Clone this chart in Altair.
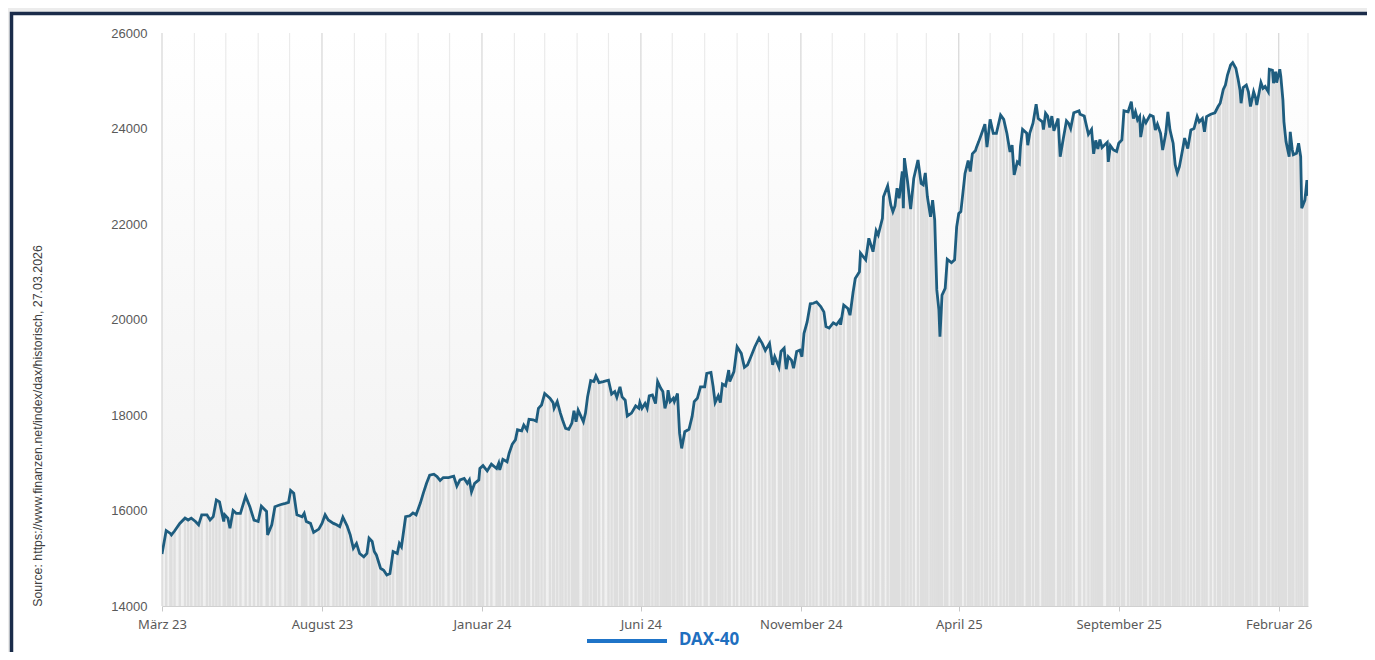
import altair as alt
import pandas as pd

# ---------------- data ----------------
start_date = "2023-03-01"
end_date = "2026-03-01"

day_offsets = [
    0, 4, 8, 9, 12, 17, 22, 25, 28, 32, 35, 38, 43, 46, 49, 52, 55, 59, 60, 63,
    65, 68, 71, 75, 80, 84, 88, 92, 95, 100, 101, 105, 108, 113, 118, 121, 123, 126, 129, 134,
    136, 138, 142, 145, 150, 153, 156, 159, 164, 167, 170, 173, 177, 180, 183, 186, 189, 193, 196, 198,
    201, 203, 205, 209, 212, 215, 218, 221, 225, 227, 229, 233, 237, 240, 243, 247, 250, 253, 256, 260,
    263, 266, 269, 274, 279, 282, 285, 289, 292, 294, 296, 299, 303, 304, 307, 311, 315, 320, 322, 323,
    326, 330, 332, 335, 338, 340, 344, 346, 349, 351, 355, 358, 360, 363, 366, 371, 374, 375, 378, 381,
    383, 386, 389, 392, 394, 396, 398, 403, 405, 407, 410, 413, 415, 418, 422, 427, 430, 433, 435, 438,
    440, 443, 445, 449, 453, 456, 457, 459, 462, 464, 466, 469, 472, 474, 477, 479, 481, 483, 484, 486,
    489, 490, 493, 495, 497, 500, 504, 507, 509, 512, 515, 519, 521, 525, 527, 529, 532, 534, 536, 539,
    542, 543, 547, 550, 554, 557, 560, 563, 567, 571, 574, 577, 581, 584, 586, 590, 592, 595, 597, 599,
    602, 604, 607, 610, 612, 614, 617, 620, 623, 626, 630, 633, 635, 638, 642, 645, 648, 649, 652, 656,
    658, 661, 663, 667, 668, 673, 676, 680, 683, 685, 689, 690, 694, 697, 699, 701, 703, 705, 708, 709,
    710, 713, 716, 719, 723, 726, 728, 730, 732, 735, 737, 739, 741, 743, 744, 746, 749, 751, 755, 758,
    760, 762, 764, 768, 771, 773, 775, 778, 779, 781, 784, 787, 789, 792, 795, 798, 802, 805, 808, 811,
    813, 815, 818, 820, 821, 823, 827, 828, 830, 833, 836, 838, 842, 843, 845, 847, 849, 851, 853, 857,
    859, 862, 865, 867, 869, 872, 877, 878, 882, 886, 889, 891, 893, 895, 897, 899, 904, 905, 907, 910,
    913, 915, 918, 920, 924, 927, 929, 931, 933, 935, 936, 939, 941, 945, 948, 950, 952, 955, 957, 960,
    962, 964, 967, 969, 971, 973, 976, 978, 981, 984, 987, 990, 992, 995, 997, 999, 1003, 1007, 1010, 1012,
    1015, 1017, 1019, 1022, 1024, 1027, 1029, 1031, 1032, 1034, 1037, 1039, 1041, 1044, 1046, 1047, 1051, 1053, 1055, 1058,
    1059, 1062, 1063, 1065, 1066, 1069, 1070, 1072, 1073, 1075, 1078, 1079, 1081, 1082, 1085, 1087, 1089, 1090, 1093, 1095,
    1096,
]

dax_values = [
    15090, 15580, 15520, 15490, 15570, 15730, 15840, 15800, 15840, 15770, 15700, 15910, 15910, 15800, 15870, 16220, 16180, 15770, 15910, 15840,
    15630, 16000, 15940, 15940, 16300, 16080, 15800, 15770, 16090, 15980, 15490, 15700, 16080, 16120, 16150, 16170, 16420, 16360, 15910, 15870,
    15940, 15770, 15730, 15540, 15610, 15730, 15910, 15800, 15730, 15700, 15660, 15860, 15680, 15490, 15210, 15310, 15100, 15030, 15100, 15420,
    15350, 15140, 15070, 14790, 14750, 14650, 14680, 15140, 15100, 15310, 15240, 15870, 15890, 15950, 15910, 16150, 16370, 16570, 16740, 16760,
    16710, 16630, 16690, 16690, 16720, 16510, 16640, 16670, 16570, 16640, 16390, 16570, 16640, 16880, 16940, 16830, 16970, 16880, 16990, 16850,
    17070, 17020, 17200, 17390, 17480, 17690, 17670, 17790, 17690, 17910, 17900, 17870, 18140, 18210, 18450, 18350, 18260, 18140, 18280, 18040,
    17900, 17720, 17700, 17830, 18090, 17860, 18100, 17860, 18040, 18380, 18720, 18700, 18820, 18680, 18700, 18730, 18440, 18490, 18370, 18590,
    18380, 18310, 17980, 18040, 18190, 18140, 18260, 18140, 18240, 18140, 18400, 18420, 18240, 18700, 18560, 18490, 18140, 18300, 18520, 18280,
    18350, 18280, 18450, 17620, 17300, 17650, 17700, 17970, 18280, 18350, 18590, 18590, 18870, 18890, 18610, 18260, 18400, 18260, 18650, 18610,
    18940, 18700, 18910, 19430, 19290, 19000, 19050, 19210, 19430, 19610, 19500, 19350, 19500, 19050, 19220, 19000, 19330, 19400, 18960, 19220,
    19150, 18980, 19330, 19360, 19220, 19710, 19950, 20330, 20340, 20370, 20270, 20160, 19850, 19820, 19930, 19890, 19980, 19890, 20300, 20230,
    20090, 20580, 20860, 21000, 21390, 21250, 21700, 21420, 21860, 21770, 22120, 22570, 22800, 22400, 22260, 22380, 22750, 22540, 23100, 22330,
    23380, 22890, 22310, 22960, 23340, 22850, 22820, 23070, 22570, 22150, 22500, 22080, 20620, 20200, 19640, 20510, 20650, 21260, 21190, 21250,
    21940, 22220, 22260, 23060, 23330, 23100, 23470, 23540, 23610, 23720, 23900, 24090, 23610, 24190, 23900, 23900, 24280, 24190, 23900, 23510,
    23650, 23030, 23300, 23260, 23620, 23980, 23900, 23650, 23910, 24110, 24510, 24210, 24140, 23980, 24320, 24260, 24020, 24260, 23950, 24210,
    23410, 23790, 24160, 24110, 24000, 24330, 24370, 24300, 24260, 23880, 23980, 23470, 23750, 23570, 23770, 23600, 23710, 23300, 23640, 23550,
    23520, 23690, 23760, 24370, 24350, 24560, 24210, 24350, 24180, 24250, 23820, 24210, 24120, 24280, 24250, 23970, 24090, 23900, 23550, 23900,
    24350, 23970, 23690, 23240, 23070, 23200, 23550, 23800, 23580, 23970, 24000, 24250, 24140, 24210, 23930, 24250, 24300, 24330, 24460, 24530,
    24820, 24910, 25120, 25330, 25380, 25260, 25050, 24800, 24530, 24860, 24910, 24770, 24460, 24770, 24630, 24490, 24960, 24840, 24880, 24770,
    25240, 25220, 24950, 25190, 24960, 25240, 25090, 24600, 24140, 23720, 23410, 23930, 23550, 23450, 23480, 23690, 23410, 22330, 22500, 22920,
    22590,
]

tick_labels = ["März 23", "August 23", "Januar 24", "Juni 24", "November 24",
               "April 25", "September 25", "Februar 26"]
tick_dates = ["2023-03-01", "2023-08-01", "2024-01-01", "2024-06-01", "2024-11-01",
              "2025-04-01", "2025-09-01", "2026-02-01"]
y_ticks = [14000, 16000, 18000, 20000, 22000, 24000, 26000]

series_name = "DAX-40"
source_text = "Source: https://www.finanzen.net/index/dax/historisch,  27.03.2026"

# ---------------- derived tables ----------------
t0 = pd.Timestamp(start_date)
tick_days = [(pd.Timestamp(d) - t0).days for d in tick_dates]
end_day = (pd.Timestamp(end_date) - t0).days
month_days = [(m - t0).days for m in pd.date_range(start_date, end_date, freq="MS")]

df = pd.DataFrame({"day": day_offsets, "value": dax_values})
minor_df = pd.DataFrame({"day": [d for d in month_days if d not in tick_days]})
major_df = pd.DataFrame({"day": tick_days})
one = pd.DataFrame({"k": [0]})

label_expr = "".join(f"datum.value == {d} ? '{l}' : " for d, l in zip(tick_days, tick_labels)) + "''"

W, H = 1146, 573

x_scale = alt.Scale(domain=[0, end_day], nice=False, zero=False, padding=0)
y_scale = alt.Scale(domain=[14000, 26000], nice=False, zero=False, padding=0)

x_axis = alt.Axis(values=tick_days, labelExpr=label_expr, title=None, grid=False,
                  domainColor="#d0d0d0", tickColor="#c8c8c8", tickSize=5,
                  labelFont="Noto Sans", labelFontSize=13, labelColor="#595959",
                  labelPadding=7, labelFlush=False, labelOverlap=False, zindex=1)
y_axis = alt.Axis(values=y_ticks, format="d", title=None, grid=False, domain=False,
                  ticks=False, labelFont="Liberation Sans", labelFontSize=13,
                  labelColor="#595959", labelPadding=15, zindex=1)

panel = alt.Chart(one).mark_rect(fill="white", stroke="#1b2c4a", strokeWidth=3.5).encode(
    x=alt.value(-150.5), x2=alt.value(1400), y=alt.value(-19.5), y2=alt.value(800)
)

grad = alt.Chart(one).mark_rect(
    color=alt.LinearGradient(
        gradient="linear",
        stops=[alt.GradientStop(color="#ffffff", offset=0),
               alt.GradientStop(color="#f0f0f0", offset=1)],
        x1=0, x2=0, y1=0, y2=1)
).encode(x=alt.value(0), x2=alt.value("width"), y=alt.value(0), y2=alt.value("height"))

minor_rules = alt.Chart(minor_df).mark_rule(color="#ebebeb", strokeWidth=1.2).encode(
    x=alt.X("day:Q", scale=x_scale, axis=x_axis)
)
major_rules = alt.Chart(major_df).mark_rule(color="#d6d6d6", strokeWidth=1.2).encode(
    x=alt.X("day:Q", scale=x_scale, axis=x_axis)
)

bars = alt.Chart(df).mark_bar(color="#dedede", size=2.4, clip=True).encode(
    x=alt.X("day:Q", scale=x_scale, axis=x_axis),
    y=alt.Y("value:Q", scale=y_scale, axis=y_axis),
    y2=alt.datum(14000),
)

line = alt.Chart(df).mark_line(color="#1e5d7f", strokeWidth=2.8, clip=True).encode(
    x=alt.X("day:Q", scale=x_scale, axis=x_axis),
    y=alt.Y("value:Q", scale=y_scale, axis=y_axis),
)

source = alt.Chart(one).mark_text(
    text=source_text, angle=270, align="center", baseline="middle",
    font="Liberation Sans", fontSize=12.4, color="#404040"
).encode(x=alt.value(-124), y=alt.value(393))

legend_line = alt.Chart(one).mark_rule(color="#1f74c8", strokeWidth=4).encode(
    x=alt.value(425), x2=alt.value(505), y=alt.value(608)
)
legend_text = alt.Chart(one).mark_text(
    text=series_name, align="left", baseline="middle",
    font="Noto Sans", fontSize=17, fontWeight="bold", color="#1f6fbf"
).encode(x=alt.value(517), y=alt.value(607))

chart = alt.layer(
    panel, grad, minor_rules, major_rules, bars, line, source, legend_line, legend_text
).properties(
    width=W, height=H,
    autosize=alt.AutoSizeParams(type="none"),
    padding={"left": 154, "top": 25, "right": 59, "bottom": 46},
    background="#ececec",
).configure_view(stroke=None)

chart.save("out.html", embed_options={"renderer": "svg", "actions": False})
